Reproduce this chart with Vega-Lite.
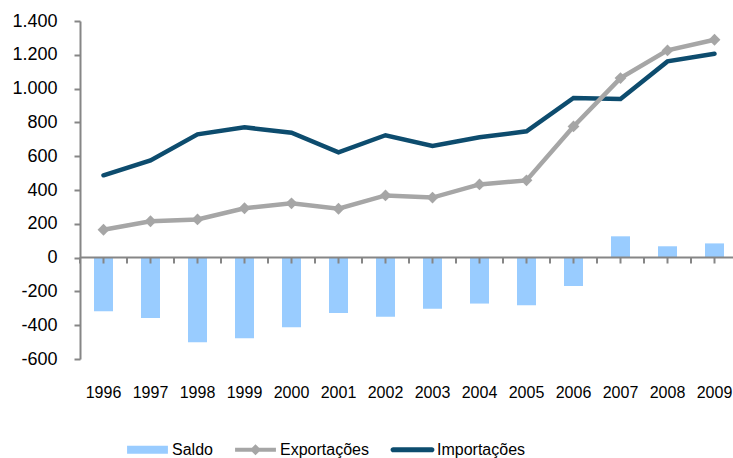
{
  "$schema": "https://vega.github.io/schema/vega-lite/v6.json",
  "width": 653,
  "height": 338,
  "autosize": "none",
  "padding": {"left": 80, "top": 21, "right": 0, "bottom": 99},
  "background": "white",
  "config": {
    "view": {"stroke": null},
    "font": "Liberation Sans",
    "locale": {"number": {"decimal": ",", "thousands": ".", "grouping": [3], "currency": ["", ""], "minus": "-"}},
    "axisY": {
      "title": null, "grid": false, "labelOverlap": false,
      "domainColor": "#868686", "domainWidth": 2,
      "tickColor": "#868686", "tickWidth": 2, "tickSize": 6,
      "labelPadding": 17, "labelFontSize": 18, "labelColor": "#000000",
      "labelFont": "Liberation Sans"
    }
  },
  "data": {"values": [
    {"year": "1996", "series": "Saldo", "value": -318},
    {"year": "1997", "series": "Saldo", "value": -357},
    {"year": "1998", "series": "Saldo", "value": -501},
    {"year": "1999", "series": "Saldo", "value": -477},
    {"year": "2000", "series": "Saldo", "value": -412},
    {"year": "2001", "series": "Saldo", "value": -328},
    {"year": "2002", "series": "Saldo", "value": -350},
    {"year": "2003", "series": "Saldo", "value": -302},
    {"year": "2004", "series": "Saldo", "value": -272},
    {"year": "2005", "series": "Saldo", "value": -282},
    {"year": "2006", "series": "Saldo", "value": -168},
    {"year": "2007", "series": "Saldo", "value": 126},
    {"year": "2008", "series": "Saldo", "value": 67},
    {"year": "2009", "series": "Saldo", "value": 84},
    {"year": "1996", "series": "Exportações", "value": 165},
    {"year": "1997", "series": "Exportações", "value": 215},
    {"year": "1998", "series": "Exportações", "value": 226},
    {"year": "1999", "series": "Exportações", "value": 292},
    {"year": "2000", "series": "Exportações", "value": 321},
    {"year": "2001", "series": "Exportações", "value": 289},
    {"year": "2002", "series": "Exportações", "value": 368},
    {"year": "2003", "series": "Exportações", "value": 355},
    {"year": "2004", "series": "Exportações", "value": 433},
    {"year": "2005", "series": "Exportações", "value": 457},
    {"year": "2006", "series": "Exportações", "value": 776},
    {"year": "2007", "series": "Exportações", "value": 1062},
    {"year": "2008", "series": "Exportações", "value": 1226},
    {"year": "2009", "series": "Exportações", "value": 1289},
    {"year": "1996", "series": "Importações", "value": 487},
    {"year": "1997", "series": "Importações", "value": 575},
    {"year": "1998", "series": "Importações", "value": 729},
    {"year": "1999", "series": "Importações", "value": 771},
    {"year": "2000", "series": "Importações", "value": 739},
    {"year": "2001", "series": "Importações", "value": 623},
    {"year": "2002", "series": "Importações", "value": 724},
    {"year": "2003", "series": "Importações", "value": 660},
    {"year": "2004", "series": "Importações", "value": 712},
    {"year": "2005", "series": "Importações", "value": 747},
    {"year": "2006", "series": "Importações", "value": 945},
    {"year": "2007", "series": "Importações", "value": 939},
    {"year": "2008", "series": "Importações", "value": 1161},
    {"year": "2009", "series": "Importações", "value": 1206}
  ]},
  "encoding": {
    "x": {
      "field": "year", "type": "ordinal",
      "scale": {"type": "band", "paddingInner": 0, "paddingOuter": 0, "range": [0, 658]},
      "axis": {
        "title": null, "domain": false, "ticks": false, "labelAngle": 0,
        "labelPadding": 25, "labelFont": "Liberation Sans", "labelFontSize": 16,
        "labelColor": "#000000", "labelOverlap": false
      }
    },
    "y": {
      "field": "value", "type": "quantitative",
      "scale": {"domain": [-600, 1400], "nice": false, "zero": false},
      "axis": {
        "values": [-600, -400, -200, 0, 200, 400, 600, 800, 1000, 1200, 1400],
        "format": ",.0f", "labelOverlap": false
      }
    }
  },
  "layer": [
    {
      "transform": [{"filter": "datum.series === 'Saldo'"}],
      "mark": {"type": "bar", "size": 19},
      "encoding": {
        "color": {
          "field": "series", "type": "nominal",
          "scale": {"domain": ["Saldo", "Exportações", "Importações"], "range": ["#99CCFF", "#A6A6A6", "#0D4C6E"]},
          "legend": {
            "title": null, "orient": "none", "legendX": 46, "legendY": 407,
            "direction": "horizontal", "symbolSize": 1849, "symbolStrokeWidth": 0,
            "labelFont": "Liberation Sans", "labelFontSize": 16, "labelColor": "#000000",
            "labelOffset": 3, "columnPadding": 21,
            "encode": {"symbols": {"update": {
              "shape": {"signal": "datum.value === 'Saldo' ? 'M-0.95,-0.19H0.95V0.19H-0.95Z' : datum.value === 'Importações' ? 'M-0.9,-0.12H0.9A0.12,0.12 0 0 1 0.9,0.12H-0.9A0.12,0.12 0 0 1 -0.9,-0.12Z' : 'M-0.95,-0.09H0.95V0.09H-0.95Z M0,-0.26L0.26,0L0,0.26L-0.26,0Z'"},
              "fill": {"scale": "color", "field": "value"},
              "opacity": {"value": 1}
            }}}
          }
        }
      }
    },
    {
      "transform": [{"filter": "datum.series === 'Saldo' && datum.year === '1996'"}],
      "mark": {"type": "rule", "color": "#868686", "strokeWidth": 2},
      "encoding": {"x": null, "y": {"datum": 0, "type": "quantitative"}}
    },
    {
      "transform": [{"filter": "datum.series === 'Saldo'"}],
      "mark": {"type": "rule", "color": "#868686", "strokeWidth": 2},
      "encoding": {"y": {"datum": 0, "type": "quantitative"}, "y2": {"datum": -35}}
    },
    {
      "transform": [{"filter": "datum.series === 'Saldo'"}],
      "mark": {"type": "rule", "color": "#868686", "strokeWidth": 2},
      "encoding": {
        "x": {"field": "year", "type": "ordinal", "bandPosition": 0},
        "y": {"datum": 0, "type": "quantitative"}, "y2": {"datum": -35}
      }
    },
    {
      "transform": [{"filter": "datum.series === 'Importações'"}],
      "mark": {"type": "line", "color": "#0D4C6E", "strokeWidth": 4.5, "strokeCap": "round", "strokeJoin": "miter"}
    },
    {
      "transform": [{"filter": "datum.series === 'Exportações'"}],
      "mark": {"type": "line", "color": "#A6A6A6", "strokeWidth": 4.5, "strokeJoin": "miter"}
    },
    {
      "transform": [{"filter": "datum.series === 'Exportações'"}],
      "mark": {"type": "point", "shape": "diamond", "filled": true, "size": 140, "color": "#A6A6A6", "opacity": 1}
    }
  ]
}
